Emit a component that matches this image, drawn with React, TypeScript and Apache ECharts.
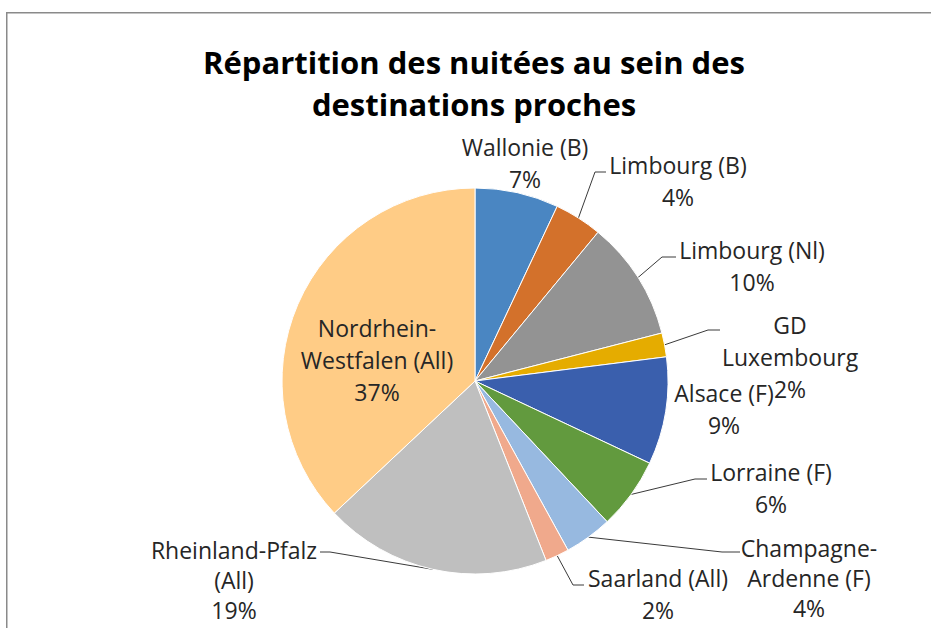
import React, { useEffect, useRef } from "react";
import * as echarts from "echarts";

const titleText = "Répartition des nuitées au sein des\ndestinations proches";

const categories = [
  "Wallonie (B)",
  "Limbourg (B)",
  "Limbourg (Nl)",
  "GD\nLuxembourg",
  "Alsace (F)",
  "Lorraine (F)",
  "Champagne-\nArdenne (F)",
  "Saarland (All)",
  "Rheinland-Pfalz\n(All)",
  "Nordrhein-\nWestfalen (All)",
];

const shares = [7, 4, 10, 2, 9, 6, 4, 2, 19, 37];

const sliceColors = [
  "#4A86C2",
  "#D3712B",
  "#939393",
  "#E5AC00",
  "#3A5FAD",
  "#629A3E",
  "#97B9E0",
  "#F0A98C",
  "#BFBFBF",
  "#FFCC86",
];

const hasLeader = [false, true, true, true, false, true, true, true, true, false];

// layout: label anchor (center x, top y), line height, and leader-line bend/end points
const labelAnchor: [number, number][] = [
  [525, 131],
  [678, 149],
  [752, 234],
  [790, 309],
  [724, 377],
  [771, 456],
  [809, 533],
  [658, 562],
  [234, 535],
  [377, 312],
];
const labelLineHeights = [32, 32, 32, 32, 32, 32, 30, 32, 30, 32];
const leaderTail: ([number, number][] | null)[] = [
  null,
  [[595, 172], [606, 172]],
  [[662, 257], [676, 257]],
  [[708, 330], [720, 330]],
  null,
  [[695, 479], [707, 479]],
  [[722, 552], [740, 552]],
  [[573, 585], [584, 585]],
  [[330, 552], [320, 552]],
  null,
];

const CX = 475;
const CY = 381;
const R = 193;
const FONT = "'Open Sans', 'Liberation Sans', sans-serif";

export default function App() {
  const ref = useRef<HTMLDivElement>(null);

  useEffect(() => {
    if (!ref.current) return;
    const chart = echarts.init(ref.current, undefined, { renderer: "svg" });
    const total = shares.reduce((a, b) => a + b, 0);
    const midAngles: number[] = [];
    let cum = 0;
    shares.forEach((v) => {
      midAngles.push(((cum + v / 2) / total) * Math.PI * 2);
      cum += v;
    });

    chart.setOption({
      animation: false,
      backgroundColor: "#ffffff",
      title: {
        text: titleText,
        left: 469,
        top: 36,
        textAlign: "center",
        textStyle: {
          fontFamily: FONT,
          fontWeight: "bold",
          fontSize: 31,
          lineHeight: 42,
          color: "#000000",
        },
      },
      graphic: [
        {
          type: "rect",
          shape: { x: 6.75, y: 12.75, width: 1000, height: 1000 },
          style: { fill: "none", stroke: "#8a8a8a", lineWidth: 1.5 },
          silent: true,
          z: -1,
        },
      ],
      series: [
        {
          type: "pie",
          center: [CX, CY],
          radius: R,
          startAngle: 90,
          clockwise: true,
          avoidLabelOverlap: false,
          percentPrecision: 0,
          itemStyle: { borderColor: "#ffffff", borderWidth: 1 },
          label: {
            show: true,
            position: "outside",
            formatter: "{b}\n{d}%",
            fontFamily: FONT,
            fontSize: 23,
            lineHeight: 32,
            color: "#262626",
            align: "center",
          },
          labelLine: {
            show: true,
            length: 10,
            length2: 10,
            lineStyle: { color: "#3a3a3a", width: 1 },
          },
          labelLayout: (params: any) => {
            const i = params.dataIndex;
            const [x, y] = labelAnchor[i];
            const out: any = { x, y, align: "center", verticalAlign: "top" };
            const tail = leaderTail[i];
            if (tail) {
              const a = midAngles[i];
              const start: [number, number] = [CX + R * Math.sin(a), CY - R * Math.cos(a)];
              out.labelLinePoints = [start, tail[0], tail[1]];
            }
            return out;
          },
          data: categories.map((name, i) => ({
            name,
            value: shares[i],
            itemStyle: { color: sliceColors[i] },
            label: { lineHeight: labelLineHeights[i] },
            labelLine: { show: hasLeader[i] },
          })),
        },
      ],
    });
    return () => chart.dispose();
  }, []);

  return (
    <div
      ref={ref}
      style={{ position: "absolute", left: 0, top: 0, width: 931, height: 628 }}
    />
  );
}
